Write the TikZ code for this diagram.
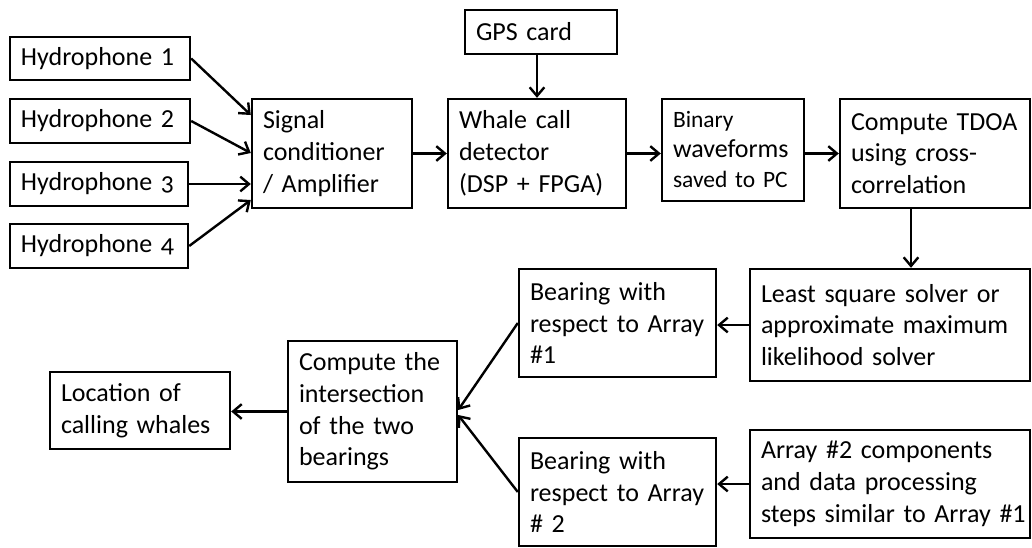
\documentclass[tikz,border=0pt]{standalone}
\usepackage{fontspec}
\setmainfont{Carlito}
\usetikzlibrary{arrows.meta,calc}
\begin{document}
\begin{tikzpicture}[x=0.75pt,y=-0.75pt,
  box/.style={draw,line width=1.8pt,inner xsep=8.25pt,inner ysep=0pt,align=left,
    font=\fontsize{19.5}{23.8}\selectfont},
  arr/.style={line width=1.8pt,-{Straight Barb[length=6.5pt,width=11pt]}}]
\useasboundingbox (0,0) rectangle (1032,547);
% top row
\node[box,minimum width=135pt,minimum height=32.25pt,text width=118.5pt] (h1) at (100,58.5) {Hydrophone 1};
\node[box,minimum width=135pt,minimum height=33pt,text width=118.5pt] (h2) at (100,121) {Hydrophone 2};
\node[box,minimum width=133.5pt,minimum height=33pt,text width=117pt] (h3) at (99,184) {Hydrophone {\addfontfeature{Numbers=OldStyle}3}};
\node[box,minimum width=133.5pt,minimum height=33pt,text width=117pt] (h4) at (99,246) {Hydrophone {\addfontfeature{Numbers=OldStyle}4}};
\node[box,minimum width=120pt,minimum height=81.75pt,text width=103.5pt] (sig) at (332,153.5) {Signal\\conditioner\\/ Amplifier};
\node[box,minimum width=114pt,minimum height=33pt,text width=97.5pt] (gps) at (541,32) {GPS card};
\node[box,minimum width=133.5pt,minimum height=81.75pt,text width=117pt] (whale) at (537,153.5) {Whale call\\detector\\\mbox{(DSP + FPGA)}};
\node[box,minimum width=106.5pt,minimum height=76.5pt,text width=90pt,font=\fontsize{17.6}{22.5}\selectfont] (bin) at (733,150) {Binary\\{\fontsize{19.5}{22.5}\selectfont waveforms}\\\mbox{saved to PC}};
\node[box,minimum width=142.5pt,minimum height=81.75pt,text width=126pt] (tdoa) at (935,153.5) {\mbox{Compute TDOA}\\using cross-\\correlation};
% lower part
\node[box,minimum width=210pt,minimum height=84pt,text width=193.5pt] (ls) at (890,325) {\mbox{Least square solver or}\\\mbox{approximate maximum}\\likelihood solver};
\node[box,minimum width=147.75pt,minimum height=81pt,text width=131.25pt] (b1) at (617.5,323) {Bearing with\\\mbox{respect to Array}\\\#1};
\node[box,minimum width=210pt,minimum height=81pt,text width=193.5pt] (a2) at (890,484) {\mbox{Array \#2 components}\\\mbox{and data processing}\\\mbox{steps similar to Array \#1}};
\node[box,minimum width=147.75pt,minimum height=81pt,text width=131.25pt] (b2) at (617.5,492) {Bearing with\\\mbox{respect to Array}\\\# 2};
\node[box,minimum width=126.75pt,minimum height=105.75pt,text width=110.25pt] (ci) at (372.5,411.5) {Compute the\\intersection\\of the two\\bearings};
\node[box,minimum width=135pt,minimum height=57.75pt,text width=118.5pt] (loc) at (140,410.5) {Location of\\\mbox{calling whales}};
% connectors
\draw[arr] (h1.east) -- ($(sig.west)+(0,-38.5)$);
\draw[arr] (h2.east) -- ($(sig.west)+(0,-0.5)$);
\draw[arr] (h3.east) -- (h3.east -| sig.west);
\draw[arr] (h4.east) -- ($(sig.west)+(0,46.5)$);
\draw[arr] (whale.north |- gps.south) -- (whale.north);
\draw[arr] (sig.east) -- (whale.west);
\draw[arr] (whale.east) -- (whale.east -| bin.west);
\draw[arr] (bin.east |- tdoa.west) -- (tdoa.west);
\coordinate (td) at ($(tdoa.south)+(-24,0)$);
\draw[arr] (td) -- (td |- ls.north);
\draw[arr] (ls.west) -- (ls.west -| b1.east);
\draw[arr] (a2.west) -- (a2.west -| b2.east);
\draw[arr] (b1.west) -- ($(ci.east)+(0,-1.5)$);
\draw[arr] (b2.west) -- ($(ci.east)+(0,3.5)$);
\draw[arr] (ci.west) -- (ci.west -| loc.east);
\end{tikzpicture}
\end{document}
